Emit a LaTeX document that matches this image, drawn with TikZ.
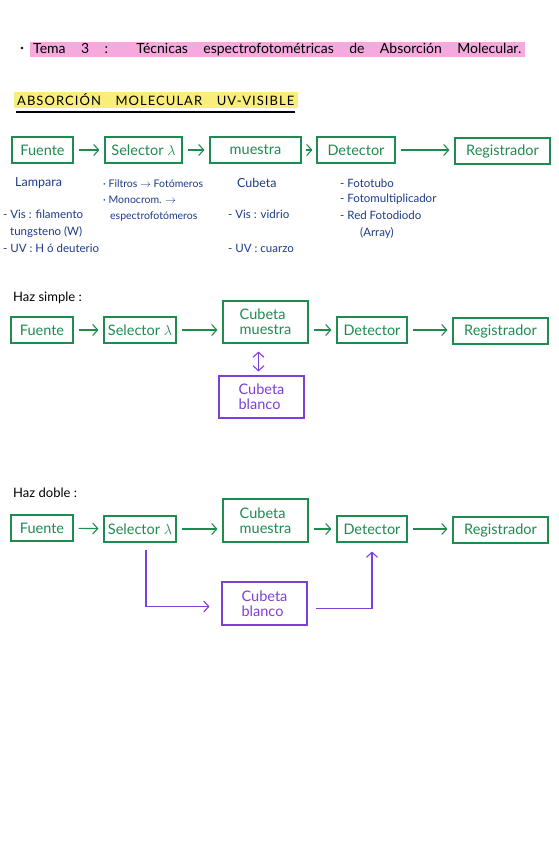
\documentclass[tikz,border=0pt]{standalone}
\usepackage{fontspec}
\setmainfont{Lato}
\usetikzlibrary{arrows.meta}
\definecolor{TmGreen}{HTML}{1E8B4F}
\definecolor{TmPurple}{HTML}{7E3FD9}
\definecolor{TmBlue}{HTML}{1C3B8C}
\definecolor{TmPink}{HTML}{F5A9DD}
\definecolor{TmYellow}{HTML}{F9EE7C}

\begin{document}
\begin{tikzpicture}[x=1pt,y=-1pt,
  caja/.style={draw=TmGreen,text=TmGreen,line width=1.1pt,minimum height=26pt,inner sep=2pt,font=\fontsize{14.5}{15}\selectfont},
  cajab/.style={caja,draw=TmPurple,text=TmPurple,align=left,minimum height=42pt},
  flecha/.style={TmGreen,line width=1.1pt,-{Straight Barb[length=5pt,width=11pt]},shorten <=5pt,shorten >=5pt},
  pflecha/.style={TmPurple,line width=1.1pt,-{Straight Barb[length=5pt,width=11pt]}},
  nota/.style={text=TmBlue,anchor=west,inner sep=0pt,font=\fontsize{11.5}{13}\selectfont},
  rotulo/.style={anchor=west,inner sep=0pt,font=\fontsize{13}{14}\selectfont}]
\path[use as bounding box,fill=white] (0,0) rectangle (558,848);
% title
\fill[TmPink] (30,42) rectangle (525,57);
\fill (22,48) circle (1.4);
\node[rotulo,font=\fontsize{14}{15}\selectfont] (tema) at (33,49.5) {\makebox[488pt][s]{Tema 3 : Técnicas espectrofotométricas de Absorción Molecular.}};
\fill[TmYellow] (14,92) rectangle (298,108);
\node[rotulo,font=\fontsize{13}{14}\addfontfeatures{LetterSpace=8}\selectfont] (seccion) at (17,100) {\makebox[277pt][s]{ABSORCIÓN MOLECULAR UV-VISIBLE}};
\draw[line width=1.1pt] (16,112) -- (295,112);

% general scheme
\node[caja,minimum width=61pt] (fuenteA) at (42.5,150) {Fuente};
\node[caja,minimum width=77pt] (selA) at (143.5,150) {Selector $\lambda$};
\node[caja,minimum width=91pt] (muesA) at (255.5,150) {muestra};
\node[caja,minimum width=78pt] (detA) at (356,150) {Detector};
\node[caja,minimum width=95pt] (regA) at (502.5,151) {Registrador};
\draw[flecha] (fuenteA) -- (selA);
\draw[flecha] (selA) -- (muesA);
\draw[flecha,shorten <=4pt,shorten >=4pt] (muesA) -- (detA);
\draw[flecha] (detA) -- (detA -| regA.west);

\node[nota,font=\fontsize{12.5}{14}\selectfont] (lampara) at (15,183) {Lampara};
\node[nota] (vis1) at (3,214) {- Vis : filamento};
\node[nota] (tung) at (10,232) {tungsteno (W)};
\node[nota] (uv1) at (3,248) {- UV : H ó deuterio};
\node[nota,font=\fontsize{10.5}{12}\selectfont] (filtros) at (103,184) {· Filtros \ensuremath{\rightarrow} Fotómeros};
\node[nota,font=\fontsize{10.5}{12}\selectfont] (monocrom) at (103,200) {· Monocrom. \ensuremath{\rightarrow}};
\node[nota,font=\fontsize{10.5}{12}\selectfont] (espectro) at (110,217) {espectrofotómeros};
\node[nota,font=\fontsize{12.5}{14}\selectfont] (cubeta) at (237,183) {Cubeta};
\node[nota] (vis2) at (228,214) {- Vis : vidrio};
\node[nota] (uv2) at (228,248) {- UV : cuarzo};
\node[nota] (fototubo) at (340,183) {- Fototubo};
\node[nota] (fotomult) at (340,199) {- Fotomultiplicador};
\node[nota] (fotodiodo) at (340,215) {- Red Fotodiodo};
\node[nota] (array) at (360,233) {(Array)};

% single beam
\node[rotulo] (simple) at (13,298) {Haz simple :};
\node[caja,minimum width=62pt] (fuenteB) at (42,330) {Fuente};
\node[caja,minimum width=72pt] (selB) at (140,330) {Selector $\lambda$};
\node[caja,minimum width=85pt,minimum height=42pt,align=left] (muesB) at (265.5,322) {Cubeta\\muestra};
\node[caja,minimum width=70pt] (detB) at (372,330) {Detector};
\node[caja,minimum width=95pt] (regB) at (500.5,331) {Registrador};
\node[cajab,minimum width=85pt] (blancoB) at (261.5,397) {Cubeta\\blanco};
\draw[flecha] (fuenteB) -- (selB);
\draw[flecha] (selB) -- (selB -| muesB.west);
\draw[flecha] (muesB.east |- detB) -- (detB);
\draw[flecha] (detB) -- (detB -| regB.west);
\draw[pflecha,{Straight Barb[length=5pt,width=11pt]}-{Straight Barb[length=5pt,width=11pt]}] ([xshift=-7pt]muesB.south) ++(0,8) -- ([xshift=-3pt,yshift=4pt]blancoB.north);

% double beam
\node[rotulo] (doble) at (13,493) {Haz doble :};
\node[caja,minimum width=62pt] (fuenteC) at (42,528) {Fuente};
\node[caja,minimum width=72pt] (selC) at (140,529) {Selector $\lambda$};
\node[caja,minimum width=85pt,minimum height=43pt,align=left] (muesC) at (265.5,520.5) {Cubeta\\muestra};
\node[caja,minimum width=70pt] (detC) at (372,529) {Detector};
\node[caja,minimum width=95pt] (regC) at (500.5,530) {Registrador};
\node[cajab,minimum width=85pt,minimum height=43pt] (blancoC) at (264.5,603.5) {Cubeta\\blanco};
\draw[flecha] (fuenteC) -- (selC);
\draw[flecha] (selC) -- (selC -| muesC.west);
\draw[flecha] (muesC.east |- detC) -- (detC);
\draw[flecha] (detC) -- (detC -| regC.west);
\draw[pflecha] ([xshift=6pt,yshift=-7pt]selC.south) |- ([xshift=-12pt,yshift=-3pt]blancoC.west);
\draw[pflecha] ([xshift=8pt,yshift=-5pt]blancoC.east) -| ([yshift=-9pt]detC.south);
\end{tikzpicture}
\end{document}
